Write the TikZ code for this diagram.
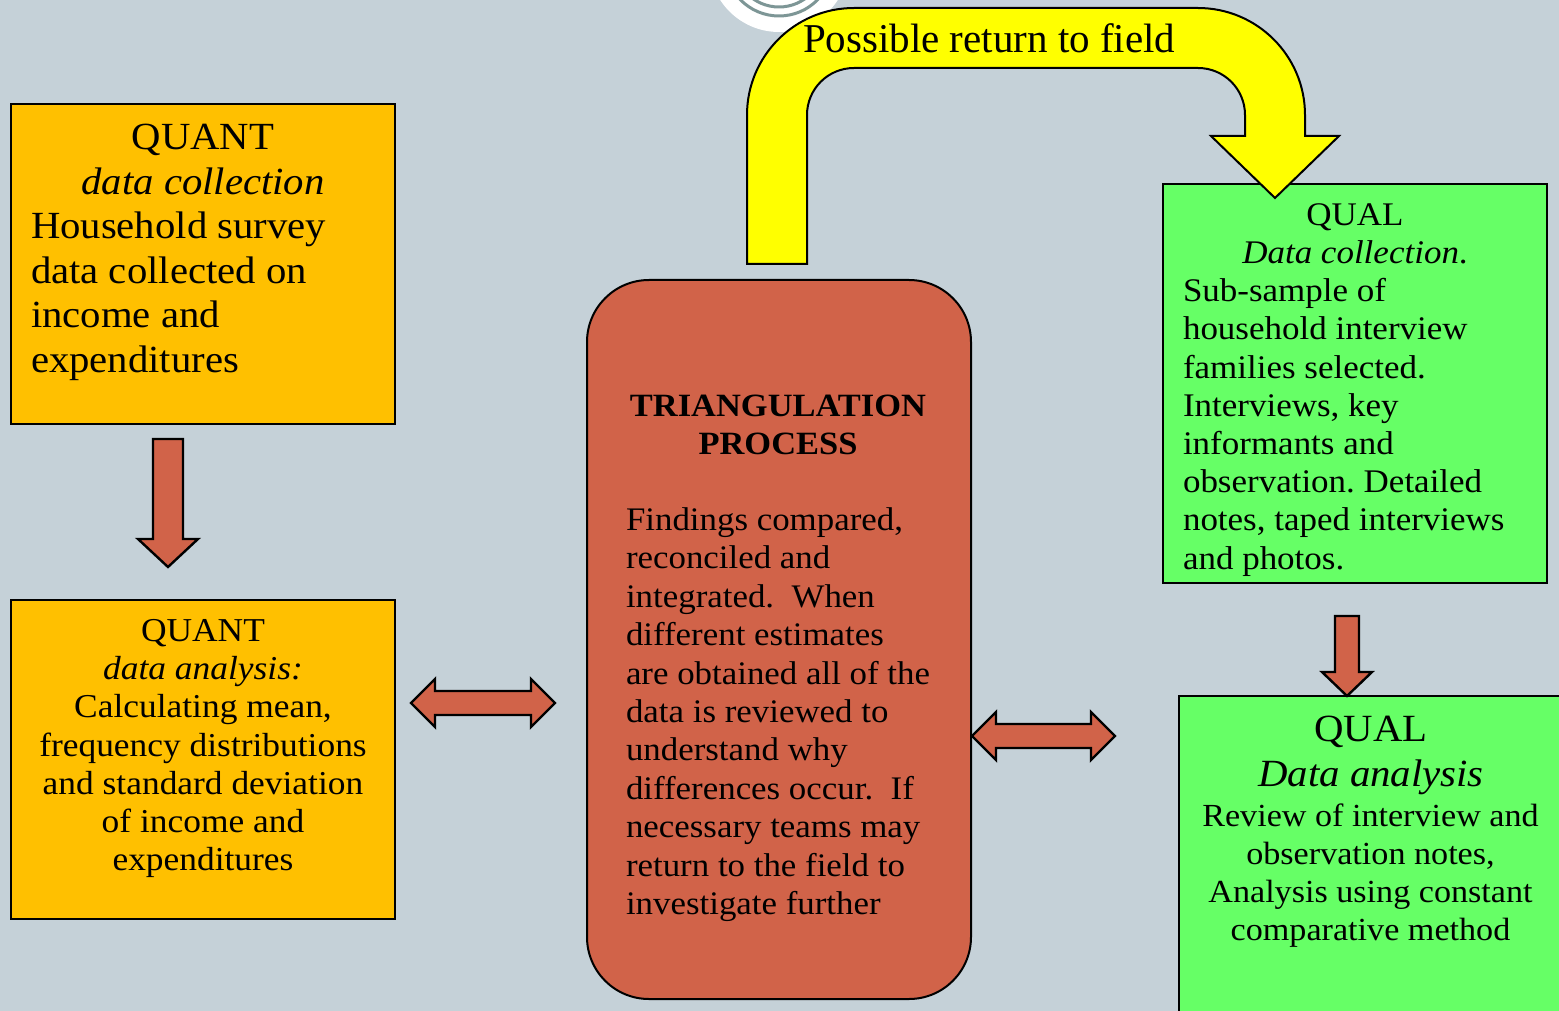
\documentclass[tikz,border=0pt]{standalone}
\usepackage{fontspec}
\setmainfont{Liberation Serif}[FakeStretch=1.06]
\newfontfamily\labelfont{Liberation Serif}

\definecolor{bg}{RGB}{197,209,216}
\definecolor{quantfill}{RGB}{255,192,0}
\definecolor{qualfill}{RGB}{102,255,102}
\definecolor{coral}{RGB}{209,99,73}
\definecolor{ringgray}{RGB}{125,150,150}
\definecolor{arrowyellow}{RGB}{255,255,0}

\begin{document}
\frenchspacing
\begin{tikzpicture}[x=1pt,y=-1pt,
  box/.style={draw=black, line width=2pt, rectangle, inner sep=0pt},
  blockarrow/.style={fill=coral, draw=black, line width=2.4pt, line join=miter},
  bigarrow/.style={fill=arrowyellow, draw=black, line width=2pt, line join=miter},
  txt/.style={inner sep=0pt, outer sep=0pt},
  ring/.style={draw=ringgray, line width=3pt}]

\useasboundingbox (0,0) rectangle (1559,1011);
\clip (0,0) rectangle (1559,1011);
\fill[bg] (0,0) rectangle (1559,1011);

% emblem peeking in at the top edge
\fill[white] (779,-38) circle[radius=70pt];
\draw[ring] (779,-38) circle[radius=54pt];
\draw[ring] (779,-38) circle[radius=45pt];

% boxes
\node[box, fill=quantfill, minimum width=384pt, minimum height=320pt] (quantcoll) at (203,264) {};
\node[box, fill=quantfill, minimum width=384pt, minimum height=319pt] (quantana) at (203,759.5) {};
\node[box, fill=coral, rounded corners=62pt, minimum width=384pt, minimum height=719pt] (triang) at (779,639.5) {};
\node[box, fill=qualfill, minimum width=384pt, minimum height=399pt] (qualcoll) at (1355,383.5) {};
\node[box, fill=qualfill, minimum width=400pt, minimum height=344pt] (qualana) at (1379,868) {};

% curved arrow: possible return to field
\draw[bigarrow] (747,264) -- (747,115)
  .. controls (747,55.9) and (794.9,8) .. (854,8)
  -- (1198,8)
  .. controls (1257.1,8) and (1305,55.9) .. (1305,115)
  -- (1305,136) -- (1339,136) -- (1275,198) -- (1211,136) -- (1245,136) -- (1245,115)
  .. controls (1245,89) and (1224,68) .. (1198,68)
  -- (854,68)
  .. controls (828,68) and (807,89) .. (807,115)
  -- (807,264) -- cycle;
\node[txt, anchor=base west, font=\labelfont\fontsize{41}{48}\selectfont] (returnlabel) at (803,53) {Possible return to field};

% down arrows
\draw[blockarrow] (153,439) -- (183,439) -- (183,539) -- (198,539) -- (168,567) -- (138,539) -- (153,539) -- cycle;
\draw[blockarrow] (1335,616) -- (1359,616) -- (1359,672) -- (1372,672) -- (1347,696) -- (1322,672) -- (1335,672) -- cycle;

% double arrows
\draw[blockarrow] (411,703) -- (435,679) -- (435,691) -- (531,691) -- (531,679) -- (555,703)
  -- (531,727) -- (531,715) -- (435,715) -- (435,727) -- cycle;
\draw[blockarrow] (972,736) -- (996,712) -- (996,724) -- (1091,724) -- (1091,712) -- (1115,736)
  -- (1091,760) -- (1091,748) -- (996,748) -- (996,760) -- cycle;

% texts
\node[txt, anchor=north, align=center, font=\fontsize{38.4}{44.7}\selectfont] (quantcolltitle) at (203,118.2)
  {\strut QUANT\\\textit{data collection}};
\node[txt, anchor=north west, align=left, font=\fontsize{38.4}{44.7}\selectfont] (quantcollbody) at (31,207.2)
  {\strut Household survey\\data collected on\\income and\\expenditures};

\node[txt, anchor=north, align=center, font=\fontsize{33.4}{38.2}\selectfont] (quantanabody) at (203,614.8)
  {\strut QUANT\\\textit{data analysis:}\\Calculating mean,\\frequency distributions\\and standard deviation\\of income and\\expenditures};

\node[txt, anchor=north, align=center, font=\fontsize{32.5}{38}\selectfont\bfseries] (triangtitle) at (778,389.4)
  {\strut TRIANGULATION\\PROCESS};
\node[txt, anchor=north west, align=left, font=\fontsize{32.9}{38.4}\selectfont] (triangbody) at (626,503.6)
  {\strut Findings compared,\\reconciled and\\integrated.\ \ When\\different estimates\\are obtained all of the\\data is reviewed to\\understand why\\differences occur.\ \ If\\necessary teams may\\return to the field to\\investigate further};

\node[txt, anchor=north, align=center, font=\fontsize{33}{38.2}\selectfont] (qualcolltitle) at (1355,198.3)
  {\strut QUAL\\\textit{Data collection}.};
\node[txt, anchor=north west, align=left, font=\fontsize{33}{38.2}\selectfont] (qualcollbody) at (1183,275)
  {\strut Sub-sample of\\household interview\\families selected.\\Interviews, key\\informants and\\observation. Detailed\\notes, taped interviews\\and photos.};

\node[txt, anchor=north, align=center, font=\fontsize{38.5}{44.5}\selectfont] (qualanatitle) at (1371,710.5)
  {\strut QUAL\\\textit{Data analysis}};
\node[txt, anchor=north, align=center, font=\fontsize{32.2}{38.2}\selectfont] (qualanabody) at (1370.5,799.3)
  {\strut Review of interview and\\observation notes,\\Analysis using constant\\comparative method};

\end{tikzpicture}
\end{document}
